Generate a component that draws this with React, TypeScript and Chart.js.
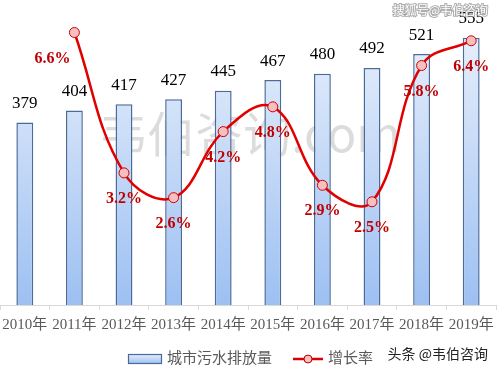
import React, { useEffect, useRef } from "react";
import { Chart, registerables } from "chart.js";

Chart.register(...registerables);

const years = ["2010年", "2011年", "2012年", "2013年", "2014年", "2015年", "2016年", "2017年", "2018年", "2019年"];
const discharge = [379, 404, 417, 427, 445, 467, 480, 492, 521, 555];
const growth: (number | null)[] = [null, 6.6, 3.2, 2.6, 4.2, 4.8, 2.9, 2.5, 5.8, 6.4];
const barLabel = "城市污水排放量";
const lineLabel = "增长率";

const SERIF = "'Liberation Serif', 'Times New Roman', 'Noto Sans CJK SC', serif";
const CJK = "'Liberation Serif', 'Noto Sans CJK SC', sans-serif";

function barGradient(ctx: CanvasRenderingContext2D, top: number, bottom: number) {
  const g = ctx.createLinearGradient(0, top, 0, bottom);
  g.addColorStop(0, "#e6eefb");
  g.addColorStop(1, "#9dc0f2");
  return g;
}

const decorPlugin = {
  id: "decor",
  beforeDatasetsDraw(chart: any) {
    const ctx = chart.ctx as CanvasRenderingContext2D;
    ctx.save();
    ctx.font = "48px 'Noto Sans CJK SC', sans-serif";
    ctx.fillStyle = "rgba(150,150,150,0.33)";
    ctx.textAlign = "center";
    ctx.textBaseline = "middle";
    ctx.fillText("韦伯咨询.com", 250, 134);
    ctx.restore();
  },
  afterDatasetsDraw(chart: any) {
    const ctx = chart.ctx as CanvasRenderingContext2D;
    ctx.save();
    const barMeta = chart.getDatasetMeta(0);
    ctx.font = `17px ${SERIF}`;
    ctx.fillStyle = "#000";
    ctx.textAlign = "center";
    ctx.textBaseline = "middle";
    barMeta.data.forEach((el: any, i: number) => {
      ctx.fillText(String(discharge[i]), el.x, el.y - 19);
    });
    const lineMeta = chart.getDatasetMeta(1);
    ctx.font = `bold 16px ${SERIF}`;
    ctx.fillStyle = "#c00000";
    lineMeta.data.forEach((el: any, i: number) => {
      const v = growth[i];
      if (v == null) return;
      const dx = i === 1 ? -22 : 0;
      ctx.fillText(v.toFixed(1) + "%", el.x + dx, el.y + 26);
    });
    ctx.restore();
  },
  afterDraw(chart: any) {
    const ctx = chart.ctx as CanvasRenderingContext2D;
    ctx.save();
    const xs = chart.scales.x;
    ctx.font = `15px ${CJK}`;
    ctx.fillStyle = "#595959";
    ctx.textAlign = "center";
    ctx.textBaseline = "middle";
    years.forEach((y, i) => {
      ctx.fillText(y, xs.getPixelForValue(i), xs.top + 20);
    });
    const ly = 359;
    ctx.fillStyle = barGradient(ctx, ly - 5, ly + 5);
    ctx.fillRect(128, ly - 5, 34, 10);
    ctx.strokeStyle = "#4a6b9a";
    ctx.lineWidth = 1.2;
    ctx.strokeRect(128.5, ly - 4.5, 33, 9);
    ctx.font = `15px ${CJK}`;
    ctx.fillStyle = "#595959";
    ctx.textAlign = "left";
    ctx.textBaseline = "middle";
    ctx.fillText(barLabel, 167, ly);
    ctx.strokeStyle = "#d80000";
    ctx.lineWidth = 2.5;
    ctx.beginPath();
    ctx.moveTo(293, ly);
    ctx.lineTo(323, ly);
    ctx.stroke();
    ctx.beginPath();
    ctx.arc(308, ly, 4, 0, Math.PI * 2);
    ctx.fillStyle = "#f6c0c0";
    ctx.fill();
    ctx.lineWidth = 1;
    ctx.strokeStyle = "#c00000";
    ctx.stroke();
    ctx.fillStyle = "#595959";
    ctx.fillText(lineLabel, 328, ly);
    ctx.font = "12px 'Noto Sans CJK SC', sans-serif";
    ctx.textAlign = "right";
    ctx.lineWidth = 2;
    ctx.strokeStyle = "rgba(120,120,120,0.6)";
    ctx.strokeText("搜狐号@韦伯咨询", 488, 10);
    ctx.fillStyle = "#ffffff";
    ctx.fillText("搜狐号@韦伯咨询", 488, 10);
    ctx.font = "14px 'Noto Sans CJK SC', sans-serif";
    ctx.fillStyle = "#222";
    ctx.fillText("头条 @韦伯咨询", 488, 354);
    ctx.restore();
  },
};

export default function App() {
  const ref = useRef<HTMLCanvasElement | null>(null);
  useEffect(() => {
    if (!ref.current) return;
    const chart = new Chart(ref.current, {
      type: "bar",
      data: {
        labels: years,
        datasets: [
          {
            type: "bar",
            label: barLabel,
            data: discharge,
            yAxisID: "y",
            backgroundColor: (c: any) => {
              const a = c.chart.chartArea;
              if (!a) return "#bcd3f5";
              return barGradient(c.chart.ctx, a.top + 20, a.bottom);
            },
            borderColor: "#4a6b9a",
            borderWidth: 1.5,
            barPercentage: 0.68,
            categoryPercentage: 0.5,
            order: 2,
          },
          {
            type: "line",
            label: lineLabel,
            data: growth,
            yAxisID: "y1",
            borderColor: "#e00000",
            borderWidth: 2.5,
            tension: 0.4,
            pointRadius: 5,
            pointBackgroundColor: "#f6c0c0",
            pointBorderColor: "#d00000",
            pointBorderWidth: 1,
            spanGaps: false,
            clip: false,
            order: 1,
          } as any,
        ],
      },
      options: {
        responsive: false,
        animation: false,
        layout: { autoPadding: false, padding: { left: -2, right: 3, top: 16, bottom: 60 } },
        plugins: { legend: { display: false }, tooltip: { enabled: false } },
        scales: {
          x: {
            offset: true,
            grid: { offset: true, drawOnChartArea: false, color: "#d9d9d9", tickLength: 5 },
            border: { color: "#d9d9d9" },
            ticks: { display: false },
          },
          y: { display: false, min: 0, max: 600 },
          y1: { display: false, min: 0, max: 7 },
        },
      },
      plugins: [decorPlugin],
    });
    return () => chart.destroy();
  }, []);
  return (
    <div style={{ position: "absolute", left: 0, top: 0, width: 499, height: 370, background: "#fff" }}>
      <canvas ref={ref} width={499} height={370} />
    </div>
  );
}
